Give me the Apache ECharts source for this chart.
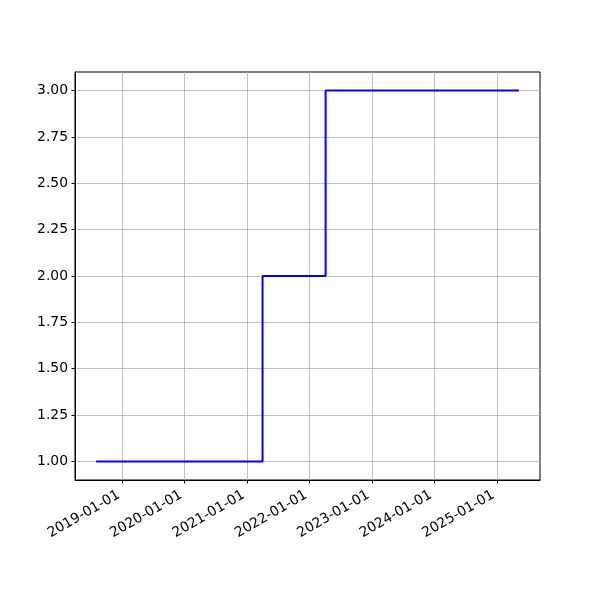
<!DOCTYPE html>
<html>
<head>
<meta charset="utf-8">
<script src="https://cdn.jsdelivr.net/npm/echarts@6/dist/echarts.min.js"></script>
<style>html,body{margin:0;padding:0;background:#fff}#c{width:600px;height:600px}</style>
</head>
<body>
<div id="c"></div>
<script>
var dates = ['2018-08-01', '2021-04-01', '2022-04-05', '2025-05-10'];
var values = [1, 2, 3, 3];
var xTickYears = [2019, 2020, 2021, 2022, 2023, 2024, 2025];
var yTicks = [1.00, 1.25, 1.50, 1.75, 2.00, 2.25, 2.50, 2.75, 3.00];

function parseLocal(s) { var p = s.split('-'); return new Date(+p[0], +p[1] - 1, +p[2]).getTime(); }
var ts = dates.map(parseLocal);
var span = ts[ts.length - 1] - ts[0];
var xMin = ts[0] - 0.05 * span, xMax = ts[ts.length - 1] + 0.05 * span;
var xTicks = xTickYears.map(function (y) { return new Date(y, 0, 1).getTime(); });
var seriesData = ts.map(function (t, i) { return [t, values[i]]; });

var font = 'DejaVu Sans';
var chart = echarts.init(document.getElementById('c'), null, { renderer: 'canvas' });
chart.setOption({
  animation: false,
  backgroundColor: '#fff',
  grid: { left: 75, right: 60, top: 72, bottom: 120, show: true, borderColor: '#000', borderWidth: 1, backgroundColor: 'transparent' },
  xAxis: {
    type: 'value', min: xMin, max: xMax, scale: true,
    axisLine: { show: true, onZero: false, lineStyle: { color: '#000', width: 1 } },
    axisTick: { show: true, length: 3.5, inside: false, customValues: xTicks, lineStyle: { color: '#000', width: 1 } },
    splitLine: { show: true, lineStyle: { color: '#b0b0b0', width: 0.8 } },
    axisLabel: {
      customValues: xTicks, rotate: 30, margin: 12, padding: [0, 4, 0, 0], color: '#000', fontFamily: font, fontSize: 13.9,
      formatter: function (v) { var d = new Date(v); var m = d.getMonth() + 1, dd = d.getDate(); return d.getFullYear() + '-' + (m < 10 ? '0' : '') + m + '-' + (dd < 10 ? '0' : '') + dd; }
    }
  },
  yAxis: {
    type: 'value', min: 0.9, max: 3.1,
    axisLine: { show: true, onZero: false, lineStyle: { color: '#000', width: 1 } },
    axisTick: { show: true, length: 3.5, inside: false, customValues: yTicks, lineStyle: { color: '#000', width: 1 } },
    splitLine: { show: true, lineStyle: { color: '#b0b0b0', width: 0.8 } },
    axisLabel: {
      customValues: yTicks, margin: 7, color: '#000', fontFamily: font, fontSize: 13.9,
      formatter: function (v) { return v.toFixed(2); }
    }
  },
  series: [{
    type: 'line', step: 'end', data: seriesData, showSymbol: false, symbol: 'none',
    lineStyle: { color: '#0000ff', width: 2 }, itemStyle: { color: '#0000ff' }
  }]
});
</script>
</body>
</html>
